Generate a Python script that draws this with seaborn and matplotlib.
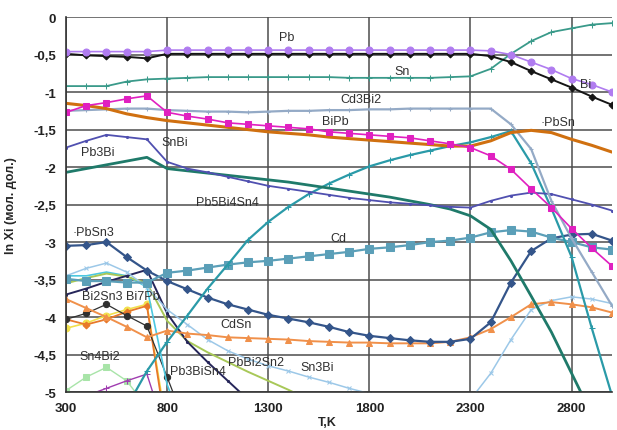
import numpy as np
import matplotlib
matplotlib.use("Agg")
import matplotlib.pyplot as plt
import seaborn as sns

nan = np.nan

# temperature grid, K
T = [300, 400, 500, 600, 700, 800, 900, 1000, 1100, 1200, 1300, 1400, 1500, 1600,
     1700, 1800, 1900, 2000, 2100, 2200, 2300, 2400, 2500, 2600, 2700, 2800, 2900, 3000]

# ln Xi for each species
pb = [-0.46, -0.46, -0.46, -0.46, -0.46, -0.44, -0.44, -0.44, -0.44, -0.44, -0.44, -0.44, -0.44, -0.44,
      -0.44, -0.44, -0.44, -0.44, -0.44, -0.44, -0.44, -0.45, -0.50, -0.60, -0.70, -0.82, -0.90, -1.00]
bi = [-0.49, -0.51, -0.52, -0.53, -0.55, -0.49, -0.49, -0.49, -0.49, -0.49, -0.49, -0.49, -0.49, -0.49,
      -0.49, -0.49, -0.49, -0.49, -0.49, -0.49, -0.49, -0.52, -0.60, -0.72, -0.83, -0.94, -1.06, -1.17]
sn = [-0.92, -0.92, -0.92, -0.86, -0.83, -0.82, -0.81, -0.80, -0.80, -0.80, -0.80, -0.80, -0.80, -0.80,
      -0.81, -0.81, -0.81, -0.81, -0.81, -0.80, -0.79, -0.69, -0.49, -0.32, -0.20, -0.15, -0.10, -0.08]
cd3bi2 = [-1.25, -1.24, -1.23, -1.22, -1.22, -1.24, -1.25, -1.26, -1.26, -1.27, -1.26, -1.25, -1.25, -1.24,
          -1.24, -1.23, -1.23, -1.22, -1.22, -1.22, -1.22, -1.22, -1.43, -1.76, -2.45, -2.95, -3.40, -3.85]
bipb = [-1.27, -1.18, -1.14, -1.09, -1.05, -1.27, -1.32, -1.36, -1.41, -1.43, -1.45, -1.47, -1.49, -1.53,
        -1.55, -1.57, -1.59, -1.61, -1.65, -1.69, -1.74, -1.85, -2.03, -2.29, -2.54, -2.82, -3.08, -3.32]
pbsn = [-1.15, -1.18, -1.22, -1.29, -1.34, -1.38, -1.41, -1.44, -1.47, -1.50, -1.53, -1.55, -1.57, -1.60,
        -1.62, -1.64, -1.66, -1.68, -1.70, -1.72, -1.72, -1.65, -1.54, -1.51, -1.54, -1.63, -1.71, -1.80]
pb3bi = [-1.74, -1.65, -1.57, -1.60, -1.63, -1.93, -2.02, -2.07, -2.13, -2.19, -2.25, -2.29, -2.33, -2.37,
         -2.41, -2.44, -2.47, -2.49, -2.51, -2.53, -2.54, -2.45, -2.38, -2.34, -2.36, -2.43, -2.50, -2.58]
snbi = [-2.07, -2.02, -1.97, -1.92, -1.87, -2.02, -2.05, -2.08, -2.11, -2.14, -2.17, -2.20, -2.24, -2.28,
        -2.32, -2.36, -2.40, -2.45, -2.50, -2.56, -2.65, -2.83, -3.25, -3.72, -4.20, -4.75, -5.30, nan]
pb5bi4sn4 = [nan, nan, nan, -5.20, -4.72, -4.33, -3.98, -3.62, -3.30, -2.97, -2.73, -2.53, -2.36, -2.22,
             -2.10, -1.99, -1.91, -1.84, -1.78, -1.72, -1.67, -1.60, -1.52, -1.95, -2.55, -3.20, -4.15, -5.05]
cd = [-3.49, -3.52, -3.52, -3.54, -3.54, -3.41, -3.38, -3.34, -3.30, -3.27, -3.25, -3.22, -3.19, -3.16,
      -3.13, -3.09, -3.07, -3.04, -3.00, -2.98, -2.94, -2.87, -2.84, -2.86, -2.94, -3.00, -3.07, -3.10]
pbsn3 = [-3.05, -3.04, -3.00, -3.20, -3.38, -3.52, -3.63, -3.74, -3.83, -3.90, -3.97, -4.02, -4.07, -4.13,
         -4.20, -4.25, -4.28, -4.31, -4.33, -4.33, -4.29, -4.07, -3.54, -3.12, -2.95, -2.90, -2.89, -2.98]
cdsn = [-3.76, -3.88, -4.00, -4.13, -4.27, -4.18, -4.22, -4.24, -4.27, -4.28, -4.29, -4.30, -4.32, -4.33,
        -4.34, -4.34, -4.35, -4.35, -4.35, -4.33, -4.27, -4.16, -4.00, -3.83, -3.80, -3.83, -3.87, -3.94]
sn3bi = [-3.45, -3.35, -3.28, -3.40, -3.60, -3.90, -4.10, -4.30, -4.45, -4.56, -4.65, -4.72, -4.80, -4.87,
         -4.95, -5.02, -5.15, -5.25, -5.30, -5.25, -5.10, -4.75, -4.30, -3.90, -3.78, -3.73, -3.76, -3.82]
pbbi2sn2 = [-3.55, -3.48, -3.42, -3.46, -3.55, -4.05, -4.32, -4.47, -4.60, -4.73, -4.85, -4.97, -5.10, nan,
            nan, nan, nan, nan, nan, nan, nan, nan, nan, nan, nan, nan, nan, nan]
pb3bisn4 = [-3.70, -3.62, -3.53, -3.45, -3.37, -3.95, -4.33, -4.60, -4.85, -5.10, nan, nan, nan, nan,
            nan, nan, nan, nan, nan, nan, nan, nan, nan, nan, nan, nan, nan, nan]
bi2sn3 = [-4.03, -3.95, -3.83, -3.98, -4.12, -4.80, -5.50, nan, nan, nan, nan, nan, nan, nan,
          nan, nan, nan, nan, nan, nan, nan, nan, nan, nan, nan, nan, nan, nan]
bi7pb = [-4.03, -4.10, -4.03, -3.93, -3.85, -5.60, nan, nan, nan, nan, nan, nan, nan, nan,
         nan, nan, nan, nan, nan, nan, nan, nan, nan, nan, nan, nan, nan, nan]
sn4bi2 = [-4.98, -4.80, -4.67, -4.85, -5.20, nan, nan, nan, nan, nan, nan, nan, nan, nan,
          nan, nan, nan, nan, nan, nan, nan, nan, nan, nan, nan, nan, nan, nan]
yellow = [-4.15, -4.08, -3.98, -3.90, -3.83, -5.50, nan, nan, nan, nan, nan, nan, nan, nan,
          nan, nan, nan, nan, nan, nan, nan, nan, nan, nan, nan, nan, nan, nan]
purple = [nan, -5.05, -4.95, -4.85, -4.76, -5.60, nan, nan, nan, nan, nan, nan, nan, nan,
          nan, nan, nan, nan, nan, nan, nan, nan, nan, nan, nan, nan, nan, nan]
cyan = [-3.45, -3.45, -3.40, -3.45, -3.60, -4.90, -5.60, nan, nan, nan, nan, nan, nan, nan,
        nan, nan, nan, nan, nan, nan, nan, nan, nan, nan, nan, nan, nan, nan]

# curve labels (text, T, ln Xi)
label_text = ["Pb", "Sn", "Bi", "Cd3Bi2", "BiPb", "·PbSn", "Pb3Bi", "SnBi", "Pb5Bi4Sn4", "·PbSn3",
              "Cd", "Bi2Sn3", "Bi7Pb", "CdSn", "Sn4Bi2", "PbBi2Sn2", "Pb3BiSn4", "Sn3Bi"]
label_T = [1393, 1962, 2867, 1759, 1630, 2733, 458, 839, 1096, 434,
           1645, 478, 681, 1141, 468, 1240, 953, 1541]
label_y = [-0.27, -0.72, -0.89, -1.09, -1.38, -1.40, -1.80, -1.67, -2.47, -2.87,
           -2.94, -3.72, -3.72, -4.09, -4.52, -4.60, -4.72, -4.67]

x_ticks = [300, 800, 1300, 1800, 2300, 2800]
y_ticks = [0, -0.5, -1, -1.5, -2, -2.5, -3, -3.5, -4, -4.5, -5]
y_tick_labels = ["0", "-0,5", "-1", "-1,5", "-2", "-2,5", "-3", "-3,5", "-4", "-4,5", "-5"]

sns.set_style("white")
plt.rcParams["font.family"] = ["Liberation Sans", "DejaVu Sans"]

fig = plt.figure(figsize=(6.17, 4.31), dpi=100)
ax = fig.add_axes([0.107, 0.088, 0.885, 0.870])

# (values, color, marker, markersize, linewidth)
styles = [
    (sn4bi2, "#a8e4a8", "s", 4, 1.0),
    (purple, "#a03cb0", "+", 4, 1.0),
    (yellow, "#f2e04c", "o", 5, 1.2),
    (bi7pb, "#e8782a", "D", 3.5, 1.3),
    (bi2sn3, "#303030", "o", 4.5, 0.9),
    (cyan, "#4cc8e0", None, 0, 1.2),
    (pbbi2sn2, "#a8c858", None, 0, 1.4),
    (pb3bisn4, "#26265a", ".", 3, 1.4),
    (sn3bi, "#9cc8e8", "x", 3, 1.1),
    (cdsn, "#f0904a", "^", 5, 1.4),
    (pbsn3, "#34558a", "D", 4, 1.6),
    (cd, "#5b9fb8", "s", 6, 1.6),
    (pb5bi4sn4, "#2a9aa8", "+", 4, 1.6),
    (snbi, "#1f7a6a", None, 0, 2.0),
    (pb3bi, "#5050b0", ".", 3, 1.3),
    (cd3bi2, "#94aac6", "+", 3, 1.6),
    (pbsn, "#d07010", None, 0, 2.2),
    (bipb, "#e020c0", "s", 5, 1.2),
    (sn, "#3a9a8a", "+", 4, 1.3),
    (bi, "#151515", "D", 3.5, 1.4),
    (pb, "#b07cf0", "o", 5, 1.2),
]

for vals, color, marker, ms, lw in styles:
    sns.lineplot(x=T, y=vals, ax=ax, color=color, marker=marker, markersize=ms,
                 linewidth=lw, markeredgecolor=color, estimator=None, sort=False)

for txt, tx, ty in zip(label_text, label_T, label_y):
    ax.text(tx, ty, txt, fontsize=9, color="#303030", ha="center", va="center")

ax.set_xlim(300, 3000)
ax.set_ylim(-5, 0)
ax.set_xticks(x_ticks)
ax.set_xticklabels([str(t) for t in x_ticks])
ax.set_yticks(y_ticks)
ax.set_yticklabels(y_tick_labels)
ax.tick_params(axis="both", labelsize=9.5, length=4, color="#333333", pad=3)
for lab in ax.get_xticklabels() + ax.get_yticklabels():
    lab.set_fontweight("bold")
    lab.set_color("#222222")

ax.grid(True, color="#4d4d4d", linewidth=1.1)
ax.set_axisbelow(True)
for side in ["top", "right"]:
    ax.spines[side].set_visible(False)
for side in ["left", "bottom"]:
    ax.spines[side].set_color("#333333")
    ax.spines[side].set_linewidth(1.2)

ax.set_xlabel("T,K", fontsize=9, fontweight="bold")
ax.xaxis.set_label_coords(0.478, -0.064)
ax.set_ylabel("ln Xi (мол. дол.)", fontsize=9, fontweight="bold")
ax.yaxis.set_label_coords(-0.09, 0.5)

fig.savefig("out.png", dpi=100)
